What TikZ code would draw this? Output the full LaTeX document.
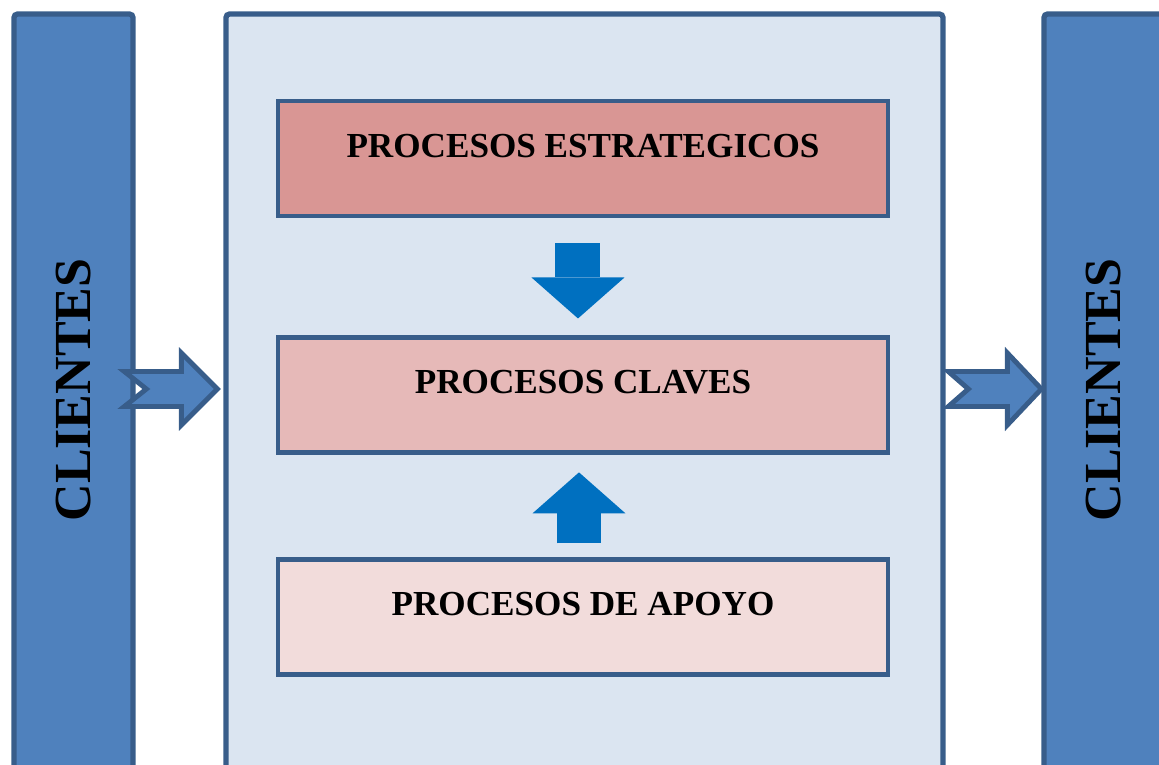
\documentclass[tikz,border=0pt]{standalone}
\usepackage{fontspec}
\setmainfont{Liberation Serif}
\usetikzlibrary{positioning, arrows.meta}
\definecolor{clientblue}{RGB}{79, 129, 189}
\definecolor{edgeblue}{RGB}{56, 93, 138}
\definecolor{framefill}{RGB}{219, 229, 241}
\definecolor{stratred}{RGB}{217, 150, 148}
\definecolor{clavered}{RGB}{230, 185, 184}
\definecolor{apoyored}{RGB}{242, 220, 219}
\definecolor{flowblue}{RGB}{0, 112, 192}

\tikzset{
  client/.style={draw=edgeblue, fill=clientblue, line width=1.5pt, rounded corners=1pt, minimum width=1.19cm, minimum height=7.60cm, inner sep=0pt, font=\fontsize{14.8}{18}\selectfont\bfseries},
  procbox/.style={draw=edgeblue, line width=1.4pt, minimum width=6.10cm, inner sep=0pt, text height=0.56cm, text depth=0.59cm, font=\bfseries},
  flow/.style={draw=flowblue, line width=0.45cm, -{Triangle[width=0.93cm, length=0.41cm, line width=0pt]}},
  sidearrow/.style={draw=edgeblue, fill=clientblue, line width=1.4pt, line join=miter}
}

\begin{document}
\begin{tikzpicture}
  \useasboundingbox (0, 0) rectangle (11.59, 7.64);
  \clip (0, 0) rectangle (11.59, 7.64);

  % Clients on both sides and the process map in between
  \node[client] (cl) at (0.735, 3.70) {\rotatebox{90}{\hspace{0.08cm}CLIENTES}};
  \node[client] (clr) at (11.035, 3.70) {\rotatebox{90}{\hspace{0.08cm}CLIENTES}};
  \node[draw=edgeblue, fill=framefill, line width=1.5pt, rounded corners=1pt, minimum width=7.17cm, minimum height=7.60cm] (mapa) at (5.845, 3.70) {};

  % Process boxes
  \node[procbox, fill=stratred] (strat) at (5.83, 6.055) {PROCESOS ESTRATEGICOS};
  \node[procbox, fill=clavered, below=1.17cm of strat] (clave) {PROCESOS CLAVES};
  \node[procbox, fill=apoyored, below=1.02cm of clave] (apoyo) {PROCESOS DE APOYO};

  % Block arrows between the boxes
  \draw[flow] ([xshift=-0.05cm, yshift=-0.25cm]strat.south) -- ([xshift=-0.05cm, yshift=0.17cm]clave.north);
  \draw[flow] ([xshift=-0.04cm, yshift=0.14cm]apoyo.north) -- ([xshift=-0.04cm, yshift=-0.17cm]clave.south);

  % Notched arrows in and out
  \draw[sidearrow] ([xshift=-0.06cm, yshift=0.05cm]mapa.west) -- ++(-0.36, 0.36) -- ++(0, -0.185) -- ++(-0.57, 0) -- ++(0.22, -0.175) -- ++(-0.22, -0.175) -- ++(0.57, 0) -- ++(0, -0.185) -- cycle;
  \draw[sidearrow] ([yshift=0.05cm]clr.west) -- ++(-0.34, 0.36) -- ++(0, -0.185) -- ++(-0.59, 0) -- ++(0.2, -0.175) -- ++(-0.2, -0.175) -- ++(0.59, 0) -- ++(0, -0.185) -- cycle;
\end{tikzpicture}
\end{document}
